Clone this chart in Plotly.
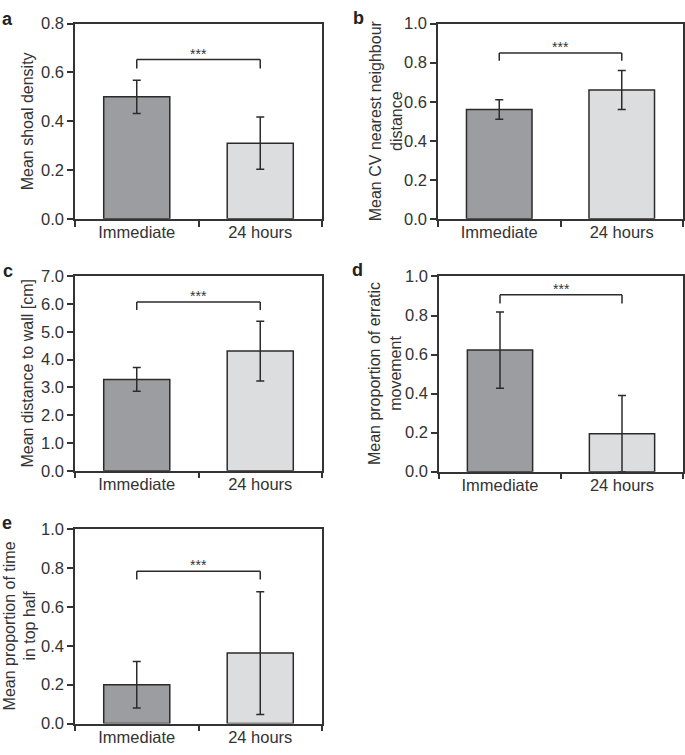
import plotly.graph_objects as go

categories = ["Immediate", "24 hours"]

# panel a: Mean shoal density
a_mean = [0.50, 0.31]
a_err = [0.068, 0.107]
# panel b: Mean CV nearest neighbour distance
b_mean = [0.56, 0.66]
b_err = [0.05, 0.10]
# panel c: Mean distance to wall [cm]
c_mean = [3.29, 4.31]
c_err = [0.43, 1.08]
# panel d: Mean proportion of erratic movement
d_mean = [0.623, 0.195]
d_err = [0.195, 0.195]
# panel e: Mean proportion of time in top half
e_mean = [0.20, 0.363]
e_err = [0.12, 0.316]

y_ranges = [[0, 0.8], [0, 1.0], [0, 7.0], [0, 1.0], [0, 1.0]]
y_dtick = [0.2, 0.2, 1.0, 0.2, 0.2]
bracket_top = [0.653, 0.85, 6.08, 0.907, 0.784]
bracket_foot = [0.616, 0.81, 5.79, 0.862, 0.741]
panel_letters = ["a", "b", "c", "d", "e"]
y_titles = [
    "Mean shoal density",
    "Mean CV nearest neighbour<br>distance",
    "Mean distance to wall [cm]",
    "Mean proportion of erratic<br>movement",
    "Mean proportion of time<br>in top half",
]

means = [a_mean, b_mean, c_mean, d_mean, e_mean]
errs = [a_err, b_err, c_err, d_err, e_err]

W, H = 685, 755
# plot boxes in pixels (left, right, top, bottom)
boxes = [
    (75, 322, 15, 215),
    (438, 683, 15, 215),
    (75, 322, 274, 473),
    (439, 683, 274, 474),
    (75, 322, 533, 732),
]
title_x = [27, 386, 28, 385, 20]
letter_pos = [(0, 10), (351, 9), (1, 268), (350, 267), (0, 527)]

bar_colors = ["#9c9da0", "#dcdddf"]
dark = "#2b2b2b"
txt = "#333333"
font_family = "Liberation Sans, Arial, sans-serif"

fig = go.Figure()
layout = dict(
    width=W, height=H, margin=dict(l=0, r=0, t=0, b=0),
    paper_bgcolor="white", plot_bgcolor="white", showlegend=False,
    font=dict(family=font_family, size=16, color=txt),
    bargap=0.465,
)
annotations = []
shapes = []

for i in range(5):
    n = "" if i == 0 else str(i + 1)
    xa, ya = "x" + n, "y" + n
    l, r, t, b = boxes[i]
    fig.add_trace(go.Bar(
        x=categories, y=means[i], xaxis=xa, yaxis=ya,
        marker=dict(color=bar_colors, line=dict(color=dark, width=1.5)),
        error_y=dict(type="data", array=errs[i], color=dark, thickness=1.5, width=4),
        cliponaxis=True, hoverinfo="skip",
    ))
    layout["xaxis" + n] = dict(
        domain=[l / W, r / W], anchor=ya, type="category",
        showline=True, linecolor=txt, linewidth=1.5, mirror=True,
        ticks="outside", ticklen=6, tickwidth=1.5, tickcolor=txt,
        tickson="boundaries", showgrid=False, zeroline=False,
        tickfont=dict(size=16.5, color=txt), ticklabelstandoff=-2,
    )
    layout["yaxis" + n] = dict(
        domain=[1 - b / H, 1 - t / H], anchor=xa, range=y_ranges[i],
        dtick=y_dtick[i], tick0=0, tickformat=".1f",
        showline=True, linecolor=txt, linewidth=1.5, mirror=True,
        ticks="outside", ticklen=6, tickwidth=1.5, tickcolor=txt,
        showgrid=False, zeroline=False,
        tickfont=dict(size=16.5, color=txt),
    )
    # significance bracket
    for x0, x1, y0, y1 in [
        (categories[0], categories[0], bracket_foot[i], bracket_top[i]),
        (categories[0], categories[1], bracket_top[i], bracket_top[i]),
        (categories[1], categories[1], bracket_foot[i], bracket_top[i]),
    ]:
        shapes.append(dict(type="line", xref=xa, yref=ya, x0=x0, x1=x1, y0=y0, y1=y1,
                           line=dict(color=dark, width=1.5)))
    annotations.append(dict(
        xref=xa, yref=ya, x=0.5, y=bracket_top[i], text="***", showarrow=False,
        font=dict(size=14, color=txt), xanchor="center", yanchor="bottom", yshift=-4,
    ))
    # y-axis title
    annotations.append(dict(
        xref="paper", yref="paper", x=title_x[i] / W, y=1 - ((t + b) / 2) / H,
        text=y_titles[i], textangle=-90, showarrow=False,
        font=dict(size=16, color=txt), xanchor="center", yanchor="middle",
    ))
    # panel letter
    lx, ly = letter_pos[i]
    annotations.append(dict(
        xref="paper", yref="paper", x=lx / W, y=1 - ly / H,
        text="<b>" + panel_letters[i] + "</b>", showarrow=False,
        font=dict(size=18, color="#222222"), xanchor="left", yanchor="middle",
    ))

layout["annotations"] = annotations
layout["shapes"] = shapes
fig.update_layout(**layout)
fig.write_html(
    "out.html",
    config={"displayModeBar": False},
    post_script="document.body.style.margin='0px';document.body.style.overflow='hidden';",
)
